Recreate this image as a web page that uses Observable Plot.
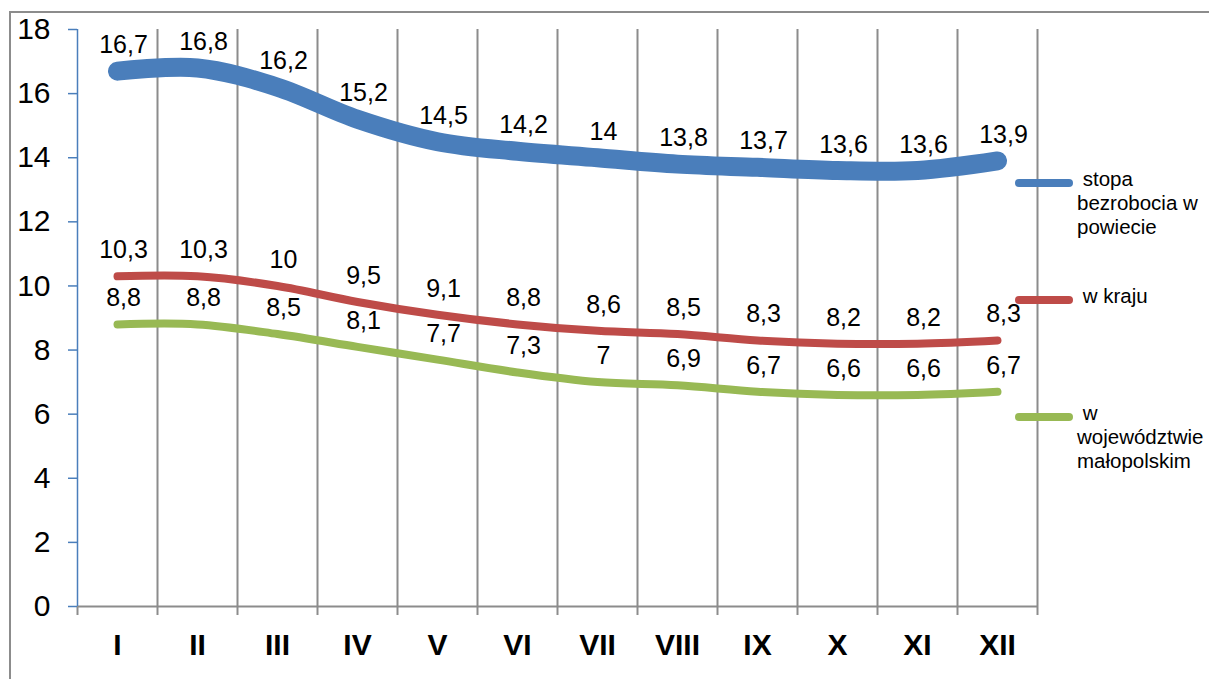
<!DOCTYPE html>
<html>
<head>
<meta charset="utf-8">
<script src="https://cdn.jsdelivr.net/npm/d3@7"></script>
<script src="https://cdn.jsdelivr.net/npm/@observablehq/plot@0.6"></script>
<style>
  html, body { margin: 0; padding: 0; background: #fff; overflow: hidden; width: 1209px; height: 679px; }
  body { position: relative; font-family: "Liberation Sans", Arial, sans-serif; }
  #frame { position: absolute; left: 9px; top: 11px; width: 1400px; height: 900px; border: 2px solid #8c8c8c; box-sizing: border-box; }
  #chart { position: absolute; left: 0; top: 0; }
  .lg-sw { position: absolute; height: 8px; border-radius: 4px; }
  .lg-tx { position: absolute; font-size: 20.5px; line-height: 24px; color: #000; white-space: nowrap; }
</style>
</head>
<body>
<div id="frame"></div>
<div id="chart"></div>
<script>
const months = ["I", "II", "III", "IV", "V", "VI", "VII", "VIII", "IX", "X", "XI", "XII"];
const seriesNames = ["stopa bezrobocia w powiecie", "w kraju", "w województwie małopolskim"];
const legendLines = [["\u00a0stopa", "bezrobocia w", "powiecie"], ["\u00a0w kraju"], ["\u00a0w", "województwie", "małopolskim"]];
const powiat = [16.7, 16.8, 16.2, 15.2, 14.5, 14.2, 14, 13.8, 13.7, 13.6, 13.6, 13.9];
const kraj = [10.3, 10.3, 10, 9.5, 9.1, 8.8, 8.6, 8.5, 8.3, 8.2, 8.2, 8.3];
const wojewodztwo = [8.8, 8.8, 8.5, 8.1, 7.7, 7.3, 7, 6.9, 6.7, 6.6, 6.6, 6.7];
const colors = ["#4a7ebb", "#be4b48", "#98b954"];
const widths = [19, 8, 8];
const yTicks = [0, 2, 4, 6, 8, 10, 12, 14, 16, 18];

const values = [powiat, kraj, wojewodztwo];
const data = seriesNames.map((s, si) => months.map((m, i) => ({series: s, idx: i + 1, month: m, value: values[si][i]})));
const all = data.flat();
const bounds = d3.range(0, months.length + 1).map(i => i + 0.5);
const fmt = v => String(v).replace(".", ",");

const chart = Plot.plot({
  width: 1209,
  height: 679,
  marginLeft: 77,
  marginRight: 172,
  marginTop: 29,
  marginBottom: 73,
  style: {fontFamily: "'Liberation Sans', Arial, sans-serif", background: "transparent", color: "#000"},
  x: {type: "linear", domain: [0.5, months.length + 0.5], axis: null},
  y: {domain: [0, 18], axis: null},
  marks: [
    Plot.ruleX(bounds.slice(1), {y1: 0, y2: 18, stroke: "#8c8c8c", strokeWidth: 2}),
    Plot.ruleY([0], {x1: bounds[0], x2: bounds[bounds.length - 1], stroke: "#8c8c8c", strokeWidth: 2}),
    Plot.axisX(bounds, {tickSize: 9, stroke: "#8c8c8c", strokeWidth: 2, tickFormat: () => "", label: null}),
    Plot.axisX(d3.range(1, months.length + 1), {tickSize: 0, tickPadding: 27, tickFormat: i => months[i - 1], fontSize: 30, fontWeight: "bold", fill: "#000", label: null}),
    Plot.ruleX([bounds[0]], {y1: 0, y2: 18, stroke: "#4a7ebb", strokeWidth: 1.5}),
    Plot.axisY(yTicks, {tickSize: 9, tickPadding: 18, stroke: "#4a7ebb", strokeWidth: 1.5, fontSize: 30, fill: "#000", tickFormat: d => String(d), label: null}),
    ...data.map((d, si) => Plot.line(d, {x: "idx", y: "value", stroke: colors[si], strokeWidth: widths[si], curve: "catmull-rom", strokeLinecap: "round", strokeLinejoin: "round"})),
    Plot.text(all, {x: "idx", y: "value", text: d => fmt(d.value), dy: -26, dx: 6, fontSize: 25, fill: "#000"})
  ]
});
document.getElementById("chart").appendChild(chart);

// legend (HTML)
const legendY = [183, 300, 417];
seriesNames.forEach((s, i) => {
  const sw = document.createElement("div");
  sw.className = "lg-sw";
  sw.style.left = "1015px";
  sw.style.width = "58px";
  sw.style.top = (legendY[i] - 4) + "px";
  sw.style.background = colors[i];
  document.body.appendChild(sw);
  const tx = document.createElement("div");
  tx.className = "lg-tx";
  tx.style.left = "1077px";
  tx.style.top = (legendY[i] - 16) + "px";
  tx.innerHTML = legendLines[i].join("<br>");
  tx.title = s;
  document.body.appendChild(tx);
});
</script>
</body>
</html>
